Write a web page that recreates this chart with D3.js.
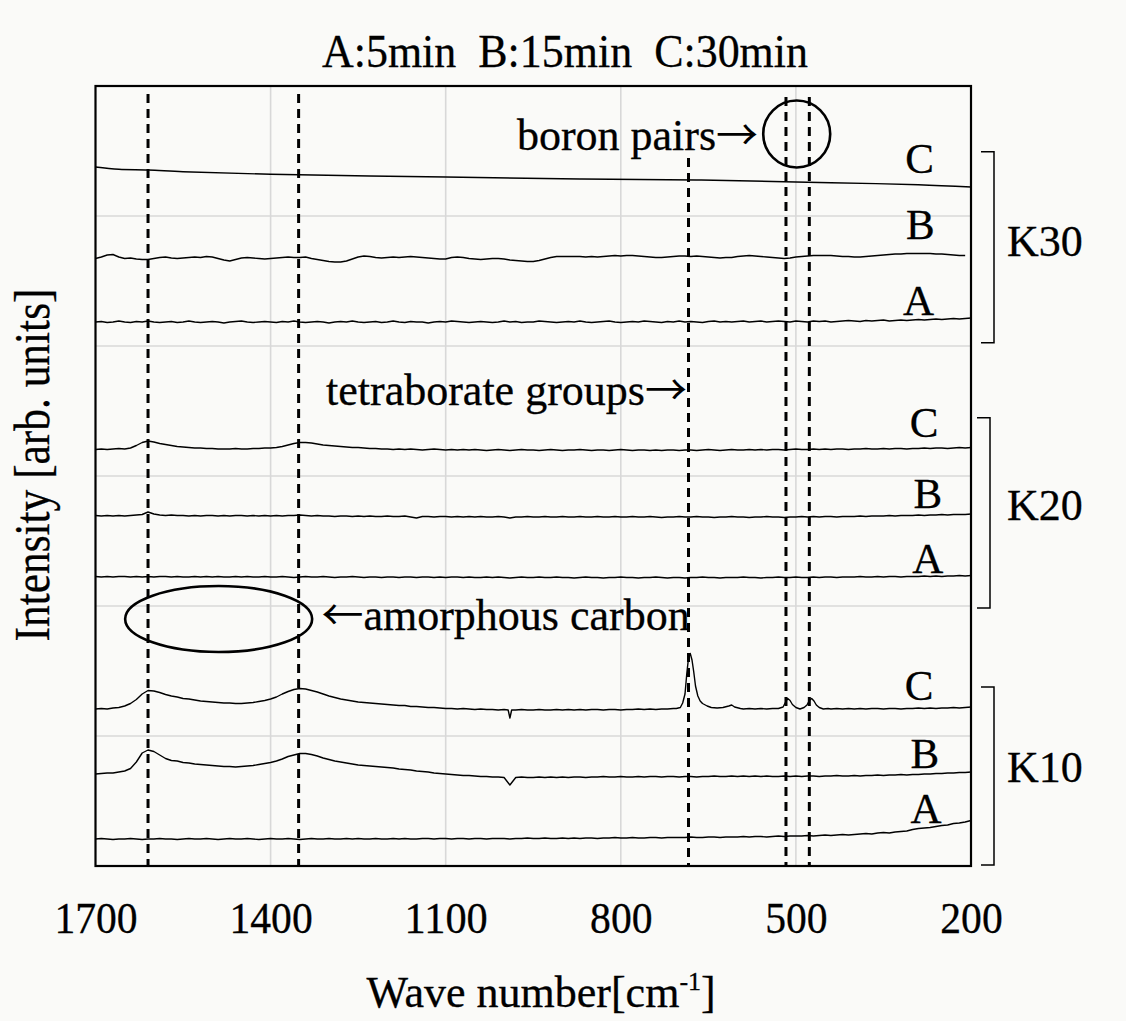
<!DOCTYPE html>
<html>
<head>
<meta charset="utf-8">
<script src="https://cdn.jsdelivr.net/npm/d3@7"></script>
<style>
  html, body { margin: 0; padding: 0; background: #fafaf8; }
  svg { display: block; }
  text { font-family: "Liberation Serif", "Times New Roman", serif; fill: #000; stroke: #000; stroke-width: 0.3px; }
  .arrow { font-family: "Noto Sans CJK JP", "Noto Sans CJK SC", sans-serif; stroke-width: 0; }
</style>
</head>
<body>
<svg id="chart" width="1126" height="1021"></svg>
<script>
// ---------------- DATA ----------------
const titleText = "A:5min  B:15min  C:30min";
const xTickValues = [1700, 1400, 1100, 800, 500, 200];
const xGridValues = [1400, 1100, 800, 500];
const yGridValues = [130, 260, 390, 520, 650];
const groupNames = ["K30", "K20", "K10"];

// shared sampling grid, cm^-1 (1700 -> 200, 10 cm^-1 step)
const WN = d3.range(1700, 199, -10);

// K30 C: smooth, slowly falling background
const k30C = [[1700,699],[1660,696.7],[1610,696],[1550,694.3],[1400,691.7],[1100,689],
              [870,687],[670,686],[520,684.3],[440,683.3],[290,681.3],[200,679]];

// K30 B (1700 -> 210)
const k30B = [607.5,609,611,611.5,609,607.5,608,607,606.5,606.5,
  607.5,608.5,609,608,607.5,608,608.5,609,608.5,609.5,
  609,607.5,606,605,606.5,608,608.5,608,607.5,607,
  607.5,608,608.5,609,608.5,608.5,609,607.5,606.5,605.5,
  604.5,604,604,605,607,609,610,609.5,608.5,608,
  608.5,609,608.5,609,609.5,609,608.5,608,607.5,607,
  607,608.5,609,608.5,607.5,607,606.5,607,607.5,607.5,
  607,606,605.5,605,604.5,604.5,605.5,607,608.5,609.5,
  609.5,609.5,609.5,609.5,609,609.5,609,609.5,610,610.5,
  610,610.5,610.5,610,609.5,609,608.5,608.5,609,609.5,
  610,610,609.5,610,609.5,609,608.5,608,608.5,608.5,
  609.5,610,610.5,610,609.5,609,608.5,608,607.5,608,
  609,609.5,610,610.5,610.5,610.5,610.5,610,609.5,609.5,
  609,609,609.5,610,610.5,611,611.5,612,612,612.5,
  612.5,612.5,612.5,612.5,612,612,611.5,611,610.5,610.5];

// K30 A
const k30A = [544,544.5,543.5,544,545,544,543.5,544.5,544,545,
  544,543.5,544,544.5,543.5,544,545,544,543.5,544,
  544.5,544,543,544,544.5,545,544,543.5,544,544.5,
  544,543.5,544.5,544,545,544,543.5,544,544.5,544,
  543,544,544.5,544,545,544,543.5,544,544.5,543.5,
  544,545,544,543.5,544.5,544,544,543,544,544.5,
  544,545,544.5,544,543.5,544,544.5,544,543.5,544,
  545,544,544.5,543.5,544,544,545,544.5,544,543.5,
  544,544.5,544,545,544,543.5,544,544.5,545,544,
  543.5,544,544.5,544,545,544.5,544,543.5,544.5,544,
  545,544,544.5,544,543.5,544.5,545,544,544.5,544,
  544.5,545,544,544.5,545,544,544.5,545,544.5,544,
  545,544.5,544,545,544.5,545,544,544.5,545,545.5,
  545,544.5,545.5,545,545.5,546,545,545.5,546,545.5,
  546,546.5,546,546.5,547,546.5,547,547.5,547,547.5,
  548];

// K20 C
const k20C = [416.5,417,416.5,417,417.5,417,418,420.5,423.5,425,
  424,422.5,421.5,420.5,419.5,419,418.5,418,418,417.5,
  417.5,417,417,417,417.5,417,417,417.5,417.5,418,
  418,418.5,419.5,421,422.5,423.5,423.5,423,422,421,
  420.5,420,419.5,419,418.5,418.5,418,417.5,417.5,417,
  417,416.5,417,416.5,417,416.5,416,416.5,417,416.5,
  416,416.5,416,416.5,416,416.5,416,415.5,416,416.5,
  416,415.5,416,416.5,416,416,415.5,416,416.5,416,
  415.5,416,416,416.5,416,415.5,416,416,415.5,416,
  416.5,416,415.5,416,416,415.5,416,415.5,416,416,
  415.5,416,416,415.5,416,416.5,416,415.5,416,416.5,
  416,416,416.5,416,416.5,416,416.5,416.5,416,416.5,
  417,416.5,416.5,417,416.5,417,416.5,417,417,416.5,
  417,417,417.5,417,417,417.5,417,417.5,417.5,417,
  417.5,417.5,418,417.5,418,418,417.5,418,418.5,418,
  418.5];

// K20 B
const k20B = [350.5,350,350.5,350,350.5,350,350.5,351,351.5,354,
  352,351,350.5,351,350.5,350.5,350,350.5,350,350.5,
  350.5,350,350.5,350,350.5,350.5,350,350.5,350,350.5,
  350,350.5,350,350.5,350.5,351,350.5,350,350.5,350,
  350,349.5,350,350,349.5,350,349.5,350,349.5,349.5,
  350,349.5,349.5,350,349,348,349.5,349.5,349,349.5,
  349.5,349,349.5,349,349.5,349,349.5,349,349,349.5,
  349,348,349,349,349.5,349,349,349.5,349,349,
  349.5,349,349,349.5,349,349,349.5,349,349,349.5,
  349,349,349.5,349,349,349.5,349,348.5,349,349,
  349.5,349,349,349.5,349,349,348.5,349,349,349.5,
  349,349,348.5,349,349,349.5,349,349,348.5,349,
  349,349.5,349,349.5,349,349.5,349.5,349,349.5,349.5,
  349.5,350,349.5,350,350,350,350.5,350,350.5,350.5,
  350.5,351,350.5,351,351,351.5,351,351.5,351.5,351.5,
  352];

// K20 A
const k20A = [289.5,289,289.5,289,289.5,289.5,289,289.5,289,289.5,
  289,289.5,289.5,289,289.5,289,289,289.5,289,289.5,
  289,289.5,289,289,289.5,289,289.5,289,289,289.5,
  289,289,289.5,289,288.5,289,289.5,289,289,289.5,
  289,288.5,289,289,289.5,289,288.5,289,289,288.5,
  289,289,288.5,289,289,288.5,289,289,288.5,289,
  288.5,289,289,288.5,289,288.5,288.5,289,288.5,289,
  288.5,288,288.5,289,288.5,288.5,289,288.5,288.5,289,
  288.5,288.5,288,288.5,289,288.5,288.5,288,288.5,288.5,
  289,288.5,288.5,288,288.5,288.5,289,288.5,288,288.5,
  288.5,288,288.5,288.5,289,288.5,288.5,288,288.5,288.5,
  288.5,289,288.5,288.5,288,288.5,288.5,289,288.5,288.5,
  289,288.5,288.5,289,288.5,289,289,288.5,289,289,
  289,289.5,289,289,289.5,289,289.5,289.5,289,289.5,
  289.5,289.5,290,289.5,290,289.5,290,290,290.5,290,
  290.5];

// K10 C (peaks need finer sampling -> explicit [wavenumber, intensity])
const k10C = [[1700,157],[1690,157.5],[1680,157],[1670,158],[1660,158.5],[1650,160],[1640,162.5],
  [1630,166.5],[1620,172],[1610,175.5],[1600,175],[1590,173.5],[1580,171.5],[1570,170],[1560,169],
  [1550,167.5],[1540,167],[1530,166],[1520,165],[1510,164.5],[1500,164],[1490,163.5],[1480,163],
  [1470,163],[1460,162.5],[1450,162.5],[1440,163],[1430,163.5],[1420,164.5],[1410,165.5],[1400,167],
  [1390,169],[1380,172],[1370,174.5],[1360,176.5],[1350,177.5],[1340,177],[1330,175.5],[1320,174],
  [1310,172],[1300,170],[1290,168.5],[1280,167],[1270,166],[1260,165],[1250,164],[1240,163.5],
  [1230,163],[1220,162.5],[1210,162],[1200,161.5],[1190,161],[1180,160.5],[1170,160.5],[1160,159.5],
  [1150,159.5],[1140,159],[1130,158.5],[1120,158.5],[1110,158],[1100,157.5],[1090,157.5],[1080,157],
  [1070,157.5],[1060,157],[1050,156.5],[1040,157],[1030,156.5],[1020,156.5],[1010,156],[1000,156.5],
  [993,156],[990,148],[987,156],[980,156],[970,156.5],[960,156],[950,156],[940,156.5],[930,156],
  [920,156],[910,156.5],[900,156],[890,156.5],[880,156],[870,156.5],[860,156],[850,156.5],[840,156.5],
  [830,156],[820,156.5],[810,156.5],[800,156],[790,156.5],[780,156.5],[770,157],[760,156.5],[750,157],
  [740,156.5],[730,157],[720,157],[710,157.5],
  [705,157.5],[698,158.5],[694,163],[690,172],[687,192],[684,208],[681,212.5],[678,206],[675,194],
  [672,180],[668,170],[664,165],[660,162.5],[652,160],[645,158.5],[635,158],[625,158.5],[615,160],
  [610,161],[605,159],[595,157.5],
  [590,157],[580,157.5],[570,157],[560,157.5],[550,157],[540,157.5],
  [530,157.5],[522,159],[518,163.5],[514,167.5],[510,165.5],[506,161.5],[500,158.5],[493,157],
  [486,158.5],[481,161],[477,165.5],[473,167.5],[469,165],[465,161],[460,158.5],[453,157],[445,157.5],
  [440,157],[430,157.5],[420,157],[410,157.5],[400,157],[390,157.5],[380,157],[370,157.5],[360,157.5],
  [350,157],[340,157.5],[330,157.5],[320,157],[310,157.5],[300,157.5],[290,158],[280,157.5],[270,158],
  [260,157.5],[250,158],[240,158],[230,158.5],[220,158],[210,158.5],[200,159]];

// K10 B
const k10B = [92,92.5,93,93,94,95,97.5,104,113,116,
  114.5,111,107.5,105.5,105,103.5,103,102,101.5,101,
  100.5,100,99.5,99.5,99,99.5,100,100.5,101.5,102.5,
  103.5,105,107,109.5,111,112.5,112.5,111.5,110,108,
  106.5,105,104,103,102,101,100.5,100,99.5,99,
  98.5,98,97,96.5,96,95,94.5,94,93,92.5,
  92,91.5,91,90.5,90.5,90,89.5,89.5,89,89,
  88.5,81,88.5,89,88.5,88.5,89,88.5,89,88.5,
  89,88.5,89,89,88.5,89,89,89.5,89,89,
  89.5,89,89,89.5,89,89.5,89.5,89,89.5,89.5,
  89,89.5,89.5,89,89.5,89.5,90,89.5,89.5,90,
  89.5,90,89.5,90,89.5,90,89.5,89.5,90,89.5,
  90,89.5,90,90,89.5,90,90,90.5,90,90,
  90.5,90,90.5,90.5,91,90.5,91,91,91.5,91,
  91.5,91.5,92,92,92.5,92.5,93,93,93.5,93.5,
  94];

// K10 A
const k10A = [27,27.5,27,26.5,27,27,27.5,27,26.5,27,
  27,27.5,27,27,26.5,27,27.5,27,27,27.5,
  27,26.5,27,27.5,27,27,27.5,27,26.5,27,
  27.5,27,27,27.5,27,26.5,27,27.5,27,27,
  27.5,27,27,27.5,27,27.5,27,27,27.5,27,
  27,27.5,27,27.5,27,27,27.5,27.5,27,27.5,
  27.5,27,27.5,27.5,27,27.5,27.5,27,27.5,27.5,
  27.5,27,27.5,27.5,28,27.5,27.5,28,27.5,27.5,
  28,27.5,28,27.5,28,28,27.5,28,28,28.5,
  28,28,28.5,28,28,28.5,28.5,28,28.5,28.5,
  28.5,28.5,29,28.5,28.5,29,29,28.5,29,29,
  29,29.5,29,29.5,29.5,29,29.5,30,29.5,30,
  30,30,30.5,30,30.5,31,30.5,31,31.5,31,
  31.5,32,32.5,32,33,33.5,33,34,34.5,35,
  36.5,37.5,38,38.5,39.5,40.5,41,42.5,43,44,
  45.5];

// dashed reference lines: wavenumber and top of line (intensity units)
const refLines = [
  {wn: 1610, top: 772}, {wn: 1352, top: 772},
  {wn: 684, top: 708},
  {wn: 517, top: 769}, {wn: 477, top: 769}
];

// labels for the spectra (letter, wavenumber of centre, intensity of baseline)
const letterLabels = [
  ["C", 288, 693], ["B", 287, 627], ["A", 290, 551],
  ["C", 280.5, 429.3], ["B", 274, 358], ["A", 274, 293.3],
  ["C", 289, 166], ["B", 279, 98], ["A", 277, 43.3]
];
// group brackets: [name, top, bottom, label baseline, bracket inset]
const groupBrackets = [
  ["K30", 714.3, 523.3, 610.3, 10],
  ["K20", 448.3, 258, 346, 6],
  ["K10", 179, 1, 84.3, 10]
];
// annotations: [text before arrow, arrow, text after arrow], wavenumber of start, intensity of baseline
const annotations = [
  [["boron pairs", "\u2192", ""], 978, 716],
  [["tetraborate groups", "\u2192", ""], 1305, 461],
  [["", "\u2190", "amorphous carbon"], 1313, 236]
];
const circleMark = {wn: 498.6, v: 732};
const ellipseMark = {wn: 1489, v: 247};

// ---------------- CHART ----------------
const svg = d3.select("#chart");
const W = 1126, H = 1021;
const L = 95.5, R = 971, T = 86, B = 866;

svg.append("rect").attr("width", W).attr("height", H).attr("fill", "#fafaf8");

const x = d3.scaleLinear().domain([1700, 200]).range([L, R]);
const y = d3.scaleLinear().domain([0, 780]).range([B, T]);

// grid
const grid = svg.append("g");
grid.selectAll("line.vx").data(xGridValues).join("line")
  .attr("x1", d => x(d)).attr("x2", d => x(d))
  .attr("y1", T).attr("y2", B)
  .attr("stroke", "#d8d8d8").attr("stroke-width", 1.6);
grid.selectAll("line.hy").data(yGridValues).join("line")
  .attr("x1", L).attr("x2", R)
  .attr("y1", d => y(d)).attr("y2", d => y(d))
  .attr("stroke", "#d8d8d8").attr("stroke-width", 1.6);

// dashed reference lines
svg.append("g").selectAll("line").data(refLines).join("line")
  .attr("x1", d => x(d.wn)).attr("x2", d => x(d.wn))
  .attr("y1", d => y(d.top)).attr("y2", y(0))
  .attr("stroke", "#000").attr("stroke-width", 3)
  .attr("stroke-dasharray", "9,6");

// spectra
const line = d3.line().x(d => x(d[0])).y(d => y(d[1]));
const smooth = d3.line().x(d => x(d[0])).y(d => y(d[1])).curve(d3.curveCatmullRom);
const onGrid = vals => vals.map((v, i) => [WN[i], v]);
const series = [onGrid(k30B), onGrid(k30A), onGrid(k20C), onGrid(k20B), onGrid(k20A),
                k10C, onGrid(k10B), onGrid(k10A)];
const gS = svg.append("g").attr("fill", "none").attr("stroke", "#000")
  .attr("stroke-width", 1.4).attr("stroke-linejoin", "round");
gS.selectAll("path.s").data(series).join("path").attr("d", d => line(d));
gS.append("path").datum(k30C).attr("d", smooth);

// frame
svg.append("rect").attr("x", L).attr("y", T).attr("width", R - L).attr("height", B - T)
  .attr("fill", "none").attr("stroke", "#000").attr("stroke-width", 2.2);

// x axis labels
const xAxis = d3.axisBottom(x).tickValues(xTickValues).tickSize(0).tickFormat(d3.format("d"));
const gx = svg.append("g").attr("transform", `translate(0,${B})`).call(xAxis);
gx.select(".domain").remove();
gx.selectAll("text")
  .attr("y", 66.7).attr("dy", 0)
  .style("font-family", '"Liberation Serif", serif')
  .attr("font-size", 45)
  .attr("fill", "#000")
  .each(function(d) {
    const n = String(d).length;
    d3.select(this).attr("textLength", n * 20.8).attr("lengthAdjust", "spacingAndGlyphs");
  });

// x axis title
const xt = svg.append("text").attr("x", 366.5).attr("y", 1007).attr("font-size", 44);
xt.append("tspan").text("Wave number[cm");
xt.append("tspan").text("-1").attr("font-size", 26).attr("dy", -17);
xt.append("tspan").text("]").attr("dy", 17);

// y axis title
svg.append("text")
  .attr("transform", `translate(49,465) rotate(-90)`)
  .attr("text-anchor", "middle")
  .attr("font-size", 50)
  .attr("textLength", 353).attr("lengthAdjust", "spacingAndGlyphs")
  .text("Intensity [arb. units]");

// title
svg.append("text").attr("x", 322).attr("y", 67)
  .attr("font-size", 46)
  .style("white-space", "pre")
  .attr("textLength", 486).attr("lengthAdjust", "spacingAndGlyphs")
  .text(titleText);

// letter labels
svg.append("g").selectAll("text").data(letterLabels).join("text")
  .attr("x", d => x(d[1])).attr("y", d => y(d[2]))
  .attr("text-anchor", "middle").attr("font-size", 43)
  .text(d => d[0]);

// brackets and group names
const gb = svg.append("g");
groupBrackets.forEach(([name, top, bot, base, inset]) => {
  const x0 = R + inset, x1 = R + inset + 13;
  gb.append("path")
    .attr("d", `M${x0},${y(top)}H${x1}V${y(bot)}H${x0}`)
    .attr("fill", "none").attr("stroke", "#000").attr("stroke-width", 1.5);
  gb.append("text").attr("x", R + 36).attr("y", y(base))
    .attr("font-size", 44).text(name);
});

// annotations (arrow glyph from a CJK font: full-width thin arrow)
annotations.forEach(([parts, wn, v]) => {
  const t = svg.append("text").attr("x", x(wn)).attr("y", y(v)).attr("font-size", 44);
  if (parts[0]) t.append("tspan").text(parts[0]);
  t.append("tspan").attr("class", "arrow").attr("font-size", 42).text(parts[1]);
  if (parts[2]) t.append("tspan").text(parts[2]);
});

svg.append("circle")
  .attr("cx", x(circleMark.wn)).attr("cy", y(circleMark.v)).attr("r", 33.5)
  .attr("fill", "none").attr("stroke", "#000").attr("stroke-width", 2.6);
svg.append("ellipse")
  .attr("cx", x(ellipseMark.wn)).attr("cy", y(ellipseMark.v)).attr("rx", 93.5).attr("ry", 33)
  .attr("fill", "none").attr("stroke", "#000").attr("stroke-width", 2.6);
</script>
</body>
</html>
